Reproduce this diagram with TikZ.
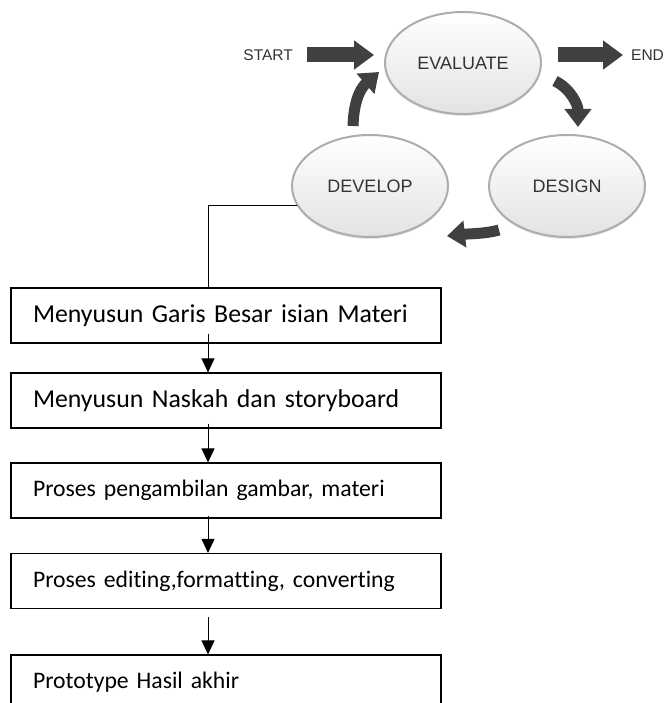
\documentclass[tikz,border=0pt]{standalone}
\usepackage{fontspec}
\usepackage{tikz}
\usetikzlibrary{shapes.geometric}
\usetikzlibrary{arrows.meta}
\usetikzlibrary{shadows}
\newfontfamily\boxfont[Ligatures=NoCommon]{Carlito}
\newfontfamily\cyclefont{Liberation Sans}
\definecolor{rimgray}{rgb}{0.68,0.68,0.68}
\definecolor{shadegray}{rgb}{0.89,0.89,0.89}
\definecolor{arrowgray}{rgb}{0.25,0.25,0.25}
\definecolor{labelgray}{rgb}{0.2,0.2,0.2}
\newcommand{\bigbox}{\boxfont\fontsize{25.8}{30}\selectfont}
\newcommand{\smallbox}{\boxfont\fontsize{23.7}{28}\selectfont}

\begin{document}
\begin{tikzpicture}[x=1pt,y=-1pt,
    phase/.style={ellipse,minimum width=156pt,minimum height=102pt,
      top color=white,bottom color=shadegray,draw=rimgray,line width=2pt,
      drop shadow={opacity=0.2,shadow xshift=0pt,shadow yshift=-2pt},
      font=\cyclefont\fontsize{18}{18}\selectfont,text=labelgray},
    tag/.style={inner sep=0pt,font=\cyclefont\fontsize{15.5}{15.5}\selectfont,text=labelgray},
    blockarrow/.style={draw=arrowgray,line width=15pt,-{Triangle[width=28pt,length=20pt]}},
    curvearrow/.style={draw=arrowgray,line width=11pt,-{Triangle[width=26pt,length=18pt]}},
    stepbox/.style={draw,line width=1.2pt,minimum height=55pt,text width=386pt,
      inner xsep=22pt,inner ysep=0pt,align=left},
    flow/.style={line width=0.9pt,-{Triangle[width=13pt,length=14pt]}}]
      \useasboundingbox (0,0) rectangle (667,703);
      \clip (0,0) rectangle (667,703);

      %% the ADDIE-like cycle
      \node[phase] (eva) at (463,63) {EVALUATE};
      \node[phase] (dev) at (370,186) {DEVELOP};
      \node[phase] (des) at (567,186) {DESIGN};

      \node[tag,anchor=east] (start) at (293,55) {START};
      \node[tag,anchor=west] (endt) at (631,55) {END};
      \draw[blockarrow] ([xshift=14pt]start.east) -- ([xshift=-10pt]eva.west |- start.east);
      \draw[blockarrow] ([xshift=16pt]eva.east |- endt.west) -- ([xshift=-8pt]endt.west);

      \coordinate (c1a) at ([xshift=-17pt,yshift=8pt]dev.north);
      \coordinate (c1b) at ([xshift=-5pt,yshift=-9pt]eva.west);
      \draw[curvearrow] (c1a) .. controls +(1,-30) and +(-16,14) .. (c1b);

      \coordinate (c2a) at ([xshift=13pt,yshift=-18pt]eva.east);
      \coordinate (c2b) at ([xshift=11pt,yshift=7pt]des.north);
      \draw[curvearrow] (c2a) .. controls +(16,8) and +(0,-22) .. (c2b);

      \coordinate (c3a) at ([xshift=-68pt,yshift=8pt]des.south);
      \coordinate (c3b) at ([xshift=77pt,yshift=2pt]dev.south);
      \draw[curvearrow] (c3a) .. controls +(-14,4) and +(18,-2) .. (c3b);

      %% develop steps
      \node[stepbox,font=\bigbox] (m1) at (226,315.5) {Menyusun Garis Besar isian Materi};
      \node[stepbox,font=\bigbox] (m2) at (226,400.5) {Menyusun Naskah dan storyboard};
      \node[stepbox,font=\smallbox] (m3) at (226,490.5) {Proses pengambilan gambar, materi};
      \node[stepbox,font=\smallbox] (m4) at (226,581) {Proses editing,formatting, converting};
      \node[stepbox,font=\smallbox] (m5) at (226,682.5) {Prototype Hasil akhir};

      \draw[line width=0.9pt] (dev.195) -| ([xshift=-18pt]m1.north);
      \draw[flow] ([xshift=-18pt,yshift=10pt]m1.south) -- ([xshift=-18pt]m2.north);
      \draw[flow] ([xshift=-18pt,yshift=5pt]m2.south) -- ([xshift=-18pt]m3.north);
      \draw[flow] ([xshift=-18pt,yshift=3pt]m3.south) -- ([xshift=-18pt]m4.north);
      \draw[flow] ([xshift=-18pt,yshift=-8pt]m4.south) -- ([xshift=-18pt]m5.north);
\end{tikzpicture}
\end{document}
